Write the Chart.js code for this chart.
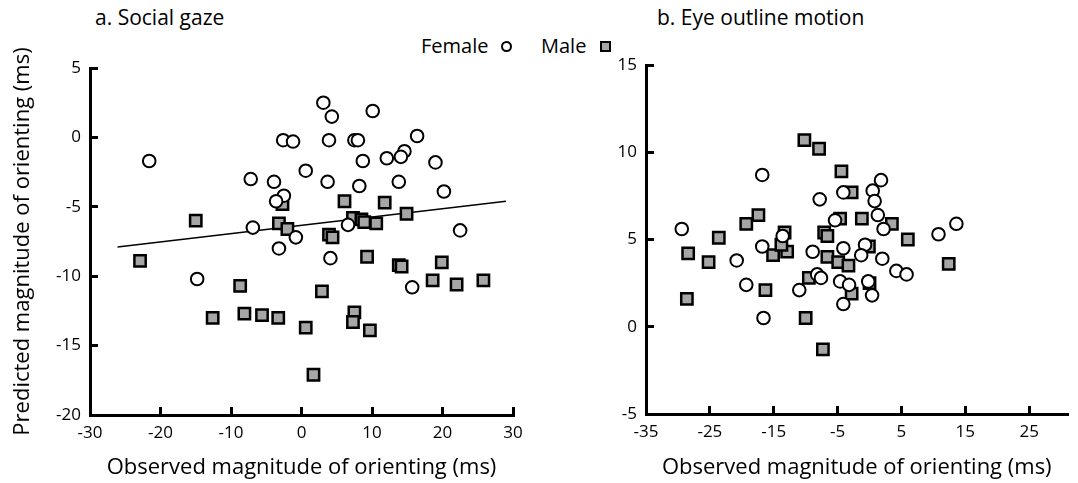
<!DOCTYPE html>
<html>
<head>
<meta charset="utf-8">
<script src="https://cdn.jsdelivr.net/npm/chart.js@4.4.0/dist/chart.umd.min.js"></script>
<style>
body { margin:0; background:#fff; width:1078px; height:483px; position:relative; overflow:hidden; font-family:'Open Sans', sans-serif; }
canvas { position:absolute; top:0; }
#chartA { left:0; }
#chartB { left:560px; }
.txt { position:absolute; color:#000; white-space:nowrap; line-height:1; }
.mk { position:absolute; box-sizing:border-box; border:2px solid #000; }
</style>
</head>
<body>
<div class="txt" style="left:95px;top:7px;font-size:21px">a. Social gaze</div>
<div class="txt" style="left:657px;top:7px;font-size:21px">b. Eye outline motion</div>
<div class="txt" style="left:421px;top:36px;font-size:20px">Female</div>
<div class="mk" style="left:501px;top:41px;width:11px;height:11px;border-radius:50%;background:#fff"></div>
<div class="txt" style="left:541px;top:36px;font-size:20px">Male</div>
<div class="mk" style="left:600px;top:41px;width:11px;height:11px;background:#a6a6a8"></div>
<canvas id="chartA" width="560" height="483"></canvas>
<canvas id="chartB" width="518" height="483"></canvas>
<script>
// a. Social gaze
const femaleAx = [-21.6, -2.6, -1.2, 0.6, -7.2, -3.9, -2.5, -3.6, -6.9, -0.8, 3.1, 4.3, 10.1, 3.9, 7.5, 8.0, 16.4, 8.7, 12.1, 14.6, 14.1, 19.0, 3.7, 8.2, 13.8, 20.2, 6.6, 22.5, -3.2, -14.8, 4.1, 15.7];
const femaleAy = [-1.7, -0.2, -0.3, -2.4, -3.0, -3.2, -4.2, -4.6, -6.5, -7.2, 2.5, 1.5, 1.9, -0.2, -0.2, -0.2, 0.1, -1.7, -1.5, -1.0, -1.4, -1.8, -3.2, -3.5, -3.2, -3.9, -6.3, -6.7, -8.0, -10.2, -8.7, -10.8];
const maleAx = [-15.0, -2.7, -3.2, -2.0, 6.1, 11.8, 14.9, 7.3, 8.5, 8.9, 10.6, -22.9, -8.7, -12.6, -8.1, -5.6, -3.3, 0.6, 1.7, 3.9, 4.4, 9.3, 13.8, 14.2, 19.9, 18.6, 22.0, 25.8, 2.9, 7.5, 7.3, 9.7];
const maleAy = [-6.0, -4.8, -6.2, -6.6, -4.6, -4.7, -5.5, -5.8, -5.9, -6.1, -6.2, -8.9, -10.7, -13.0, -12.7, -12.8, -13.0, -13.7, -17.1, -7.0, -7.2, -8.6, -9.2, -9.3, -9.0, -10.3, -10.6, -10.3, -11.1, -12.6, -13.3, -13.9];
const fitAx = [-26.1, 29.0];
const fitAy = [-7.9, -4.6];

// b. Eye outline motion
const femaleBx = [-16.8, -7.8, -29.4, -13.6, -20.8, -16.8, -8.9, -19.3, -11.0, -8.2, -7.6, -16.6, 1.8, 0.5, -4.1, 0.8, 1.3, -5.4, 2.2, 10.8, 13.6, -4.1, -0.7, -1.3, 2.0, 4.2, 5.8, -4.6, -3.2, -0.2, 0.4, -4.1];
const femaleBy = [8.7, 7.3, 5.6, 5.2, 3.8, 4.6, 4.3, 2.4, 2.1, 3.0, 2.8, 0.5, 8.4, 7.8, 7.7, 7.2, 6.4, 6.1, 5.6, 5.3, 5.9, 4.5, 4.7, 4.1, 3.9, 3.2, 3.0, 2.6, 2.4, 2.6, 1.8, 1.3];
const maleBx = [-10.2, -7.9, -17.4, -19.3, -23.6, -13.3, -7.1, -6.6, -28.4, -25.2, -15.1, -12.9, -13.8, -6.6, -16.3, -28.6, -9.5, -10.0, -7.3, -4.4, -2.8, -4.6, -1.2, 3.5, 6.0, -0.1, -4.9, -3.3, 0.0, -2.8, 12.4];
const maleBy = [10.7, 10.2, 6.4, 5.9, 5.1, 5.4, 5.4, 5.2, 4.2, 3.7, 4.1, 4.3, 4.7, 4.0, 2.1, 1.6, 2.8, 0.5, -1.3, 8.9, 7.7, 6.2, 6.2, 5.9, 5.0, 4.6, 3.7, 3.5, 2.5, 1.9, 3.6];

// tick labels
const ticksAx = [-30, -20, -10, 0, 10, 20, 30];
const ticksAy = [-20, -15, -10, -5, 0, 5];
const ticksBx = [-35, -25, -15, -5, 5, 15, 25];
const ticksBy = [-5, 0, 5, 10, 15];

const FONT = "'Open Sans', sans-serif";
const xTitle = 'Observed magnitude of orienting (ms)';
const yTitle = 'Predicted magnitude of orienting (ms)';

const pts = (xs, ys) => xs.map((x, i) => ({ x: x, y: ys[i] }));

function axis(tickVals, min, max, title, isX, fitSize) {
    return {
        type: 'linear',
        min: min,
        max: max,
        afterBuildTicks: s => { s.ticks = tickVals.map(v => ({ value: v })); },
        afterFit: s => { if (isX) s.height = fitSize; else s.width = fitSize; },
        border: { display: true, color: '#000', width: 3 },
        grid: { display: true, drawOnChartArea: false, drawTicks: true, tickLength: -8, lineWidth: 3, color: '#000' },
        ticks: { color: '#000', font: { family: FONT, size: 17 }, padding: isX ? 16 : 17, maxRotation: 0, autoSkip: false },
        title: {
            display: !!title,
            text: title,
            color: '#000',
            font: { family: FONT, size: 22, weight: 'normal' },
            padding: isX ? { top: 0, bottom: 2 } : { top: 10, bottom: 0 }
        }
    };
}

function datasets(fx, fy, mx, my, lx, ly) {
    const ds = [
        { label: 'Female', data: pts(fx, fy), pointStyle: 'circle', pointRadius: 6.3, pointHoverRadius: 6.3,
          backgroundColor: '#fff', borderColor: '#000', borderWidth: 2 },
        { label: 'Male', data: pts(mx, my), pointStyle: 'rect', pointRadius: 8, pointHoverRadius: 8,
          backgroundColor: '#a6a6a8', borderColor: '#000', borderWidth: 2.5 }
    ];
    if (lx) {
        ds.push({ type: 'line', label: 'fit', data: pts(lx, ly), showLine: true, pointRadius: 0,
                  borderColor: '#000', borderWidth: 1.5, fill: false });
    }
    return ds;
}

function makeChart(id, ds, scales, pad) {
    new Chart(document.getElementById(id), {
        type: 'scatter',
        data: { datasets: ds },
        options: {
            responsive: false,
            animation: false,
            layout: { padding: pad },
            plugins: { legend: { display: false }, tooltip: { enabled: false } },
            scales: scales
        }
    });
}

makeChart('chartA', datasets(femaleAx, femaleAy, maleAx, maleAy, fitAx, fitAy), {
    x: axis(ticksAx, -30, 30, xTitle, true, 68),
    y: axis(ticksAy, -20, 5, yTitle, false, 90)
}, { top: 68, right: 47, bottom: 0, left: 0 });

makeChart('chartB', datasets(femaleBx, femaleBy, maleBx, maleBy), {
    x: axis(ticksBx, -35, 31, xTitle, true, 69),
    y: axis(ticksBy, -5, 15, '', false, 86)
}, { top: 65, right: 8, bottom: 0, left: 0 });
</script>
</body>
</html>
